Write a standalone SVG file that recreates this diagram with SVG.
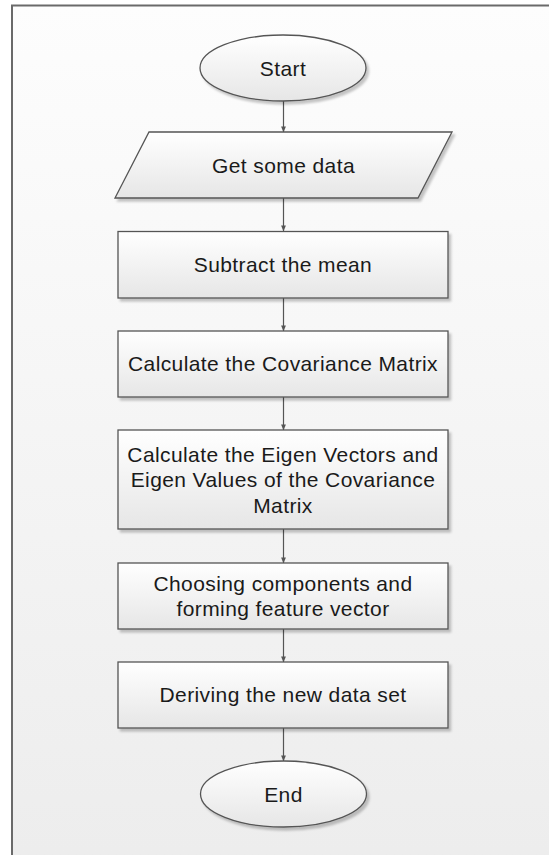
<svg xmlns="http://www.w3.org/2000/svg" width="549" height="855" viewBox="0 0 549 855">
<defs>
<linearGradient id="bg" x1="0" y1="0" x2="0" y2="1">
<stop offset="0" stop-color="#fdfdfd"/>
<stop offset="1" stop-color="#ececec"/>
</linearGradient>
<linearGradient id="nf" x1="0" y1="0" x2="0" y2="1">
<stop offset="0" stop-color="#ffffff"/>
<stop offset="1" stop-color="#e6e6e6"/>
</linearGradient>
<filter id="sh" x="-10%" y="-10%" width="120%" height="130%">
<feDropShadow dx="2.5" dy="3" stdDeviation="1.2" flood-color="#000" flood-opacity="0.22"/>
</filter>
<marker id="ah" viewBox="0 0 8 8" refX="7.5" refY="4" markerWidth="6" markerHeight="6" orient="auto" markerUnits="userSpaceOnUse">
<path d="M0,0.8 L8,4 L0,7.2 Z" fill="#555"/>
</marker>
</defs>
<style>
.node{fill:url(#nf);stroke:#555;stroke-width:1.3;filter:url(#sh)}
.t{font-family:"Liberation Sans",Arial,sans-serif;font-size:21px;letter-spacing:0.4px;fill:#1a1a1a;text-anchor:middle}
.c{stroke:#555;stroke-width:1.2;fill:none;marker-end:url(#ah)}
</style>
<rect x="12" y="5.5" width="600" height="900" fill="url(#bg)" stroke="#6a6a6a" stroke-width="2"/>
<g id="connectors">
<line class="c" x1="283.5" y1="101" x2="283.5" y2="132"/>
<line class="c" x1="283.5" y1="198" x2="283.5" y2="231"/>
<line class="c" x1="283.5" y1="298" x2="283.5" y2="331"/>
<line class="c" x1="283.5" y1="397" x2="283.5" y2="430"/>
<line class="c" x1="283.5" y1="529" x2="283.5" y2="563"/>
<line class="c" x1="283.5" y1="629" x2="283.5" y2="662"/>
<line class="c" x1="283.5" y1="728" x2="283.5" y2="761"/>
</g>
<g id="start">
<ellipse class="node" cx="283" cy="68" rx="83" ry="33"/>
<text class="t" x="283" y="75.5">Start</text>
</g>
<g id="get-data">
<polygon class="node" points="149,132 452,132 418,198 115,198"/>
<text class="t" x="283.5" y="172.5">Get some data</text>
</g>
<g id="subtract">
<rect class="node" x="118" y="231.5" width="330" height="66.5"/>
<text class="t" x="283" y="272">Subtract the mean</text>
</g>
<g id="covariance">
<rect class="node" x="118" y="331" width="330" height="66"/>
<text class="t" x="283" y="371">Calculate the Covariance Matrix</text>
</g>
<g id="eigen">
<rect class="node" x="118" y="430" width="330" height="99"/>
<text class="t" x="283" y="462">Calculate the Eigen Vectors and</text>
<text class="t" x="283" y="487">Eigen Values of the Covariance</text>
<text class="t" x="283" y="513">Matrix</text>
</g>
<g id="choosing">
<rect class="node" x="118" y="563" width="330" height="66"/>
<text class="t" x="283" y="591">Choosing components and</text>
<text class="t" x="283" y="616">forming feature vector</text>
</g>
<g id="deriving">
<rect class="node" x="118" y="662" width="330" height="66"/>
<text class="t" x="283" y="702">Deriving the new data set</text>
</g>
<g id="end">
<ellipse class="node" cx="283.5" cy="794" rx="83" ry="33"/>
<text class="t" x="283.5" y="801.5">End</text>
</g>
</svg>
